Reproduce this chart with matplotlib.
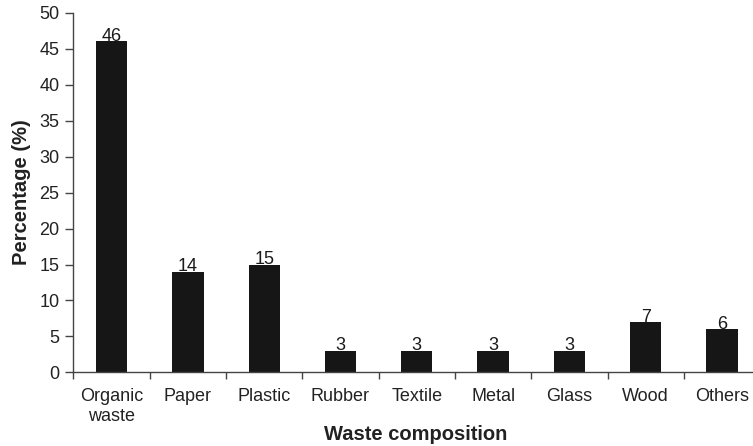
import numpy as np
import matplotlib.pyplot as plt

plt.rcParams['font.family'] = ['Liberation Sans', 'DejaVu Sans']

categories = ['Organic\nwaste', 'Paper', 'Plastic', 'Rubber', 'Textile',
              'Metal', 'Glass', 'Wood', 'Others']
percentages = [46, 14, 15, 3, 3, 3, 3, 7, 6]

BAR_COLOR = '#161616'
AXIS_COLOR = '#444444'

fig = plt.figure(figsize=(7.53, 4.46), dpi=100)
ax = fig.add_axes([0.0975, 0.165, 0.912, 0.8065])

x = np.arange(len(categories))
bars = ax.bar(x, percentages, width=0.41, color=BAR_COLOR)

# value labels sitting right on top of each bar
for xi, val in zip(x, percentages):
    ax.annotate(str(val), (xi, val), xytext=(0, -2.5), textcoords='offset points',
                ha='center', va='bottom', fontsize=13, color='#1a1a1a')

ax.set_xlim(-0.5, len(categories) - 0.5)
ax.set_ylim(0, 50)
ax.set_yticks(np.arange(0, 51, 5))

# category labels between the boundary tick marks
ax.set_xticks(np.arange(-0.5, len(categories), 1.0))
ax.set_xticklabels([])
ax.set_xticks(x, minor=True)
ax.set_xticklabels(categories, minor=True, fontsize=13, color='#222222', linespacing=1.25)
ax.tick_params(axis='x', which='minor', length=0, pad=11)
ax.tick_params(axis='x', which='major', length=5, width=1, color=AXIS_COLOR, direction='out')
ax.tick_params(axis='y', length=6, width=1, color=AXIS_COLOR, labelsize=13,
               labelcolor='#222222', pad=4)

for side in ['top', 'right']:
    ax.spines[side].set_visible(False)
for side in ['left', 'bottom']:
    ax.spines[side].set_color(AXIS_COLOR)
    ax.spines[side].set_linewidth(1)

fig.text(0.5525, 0.025, 'Waste composition', fontsize=14.5, fontweight='bold',
         color='#222222', ha='center', va='center')
ax.set_ylabel('Percentage (%)', fontsize=14.5, fontweight='bold', color='#222222', labelpad=6)

plt.savefig('out.png', dpi=100)
